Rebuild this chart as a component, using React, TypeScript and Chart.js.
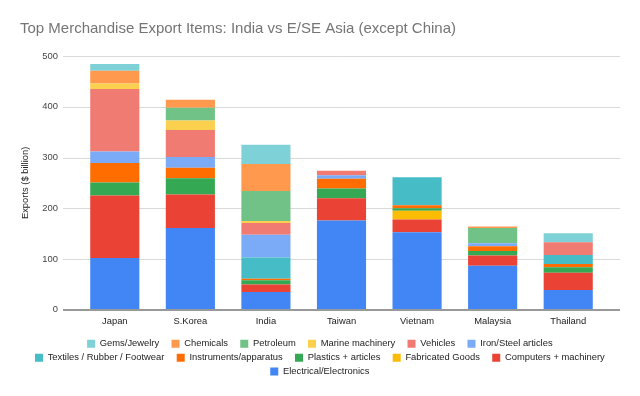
import React, { useEffect, useRef } from "react";
import { Chart, registerables } from "chart.js";

Chart.register(...registerables);

const categories = ["Japan", "S.Korea", "India", "Taiwan", "Vietnam", "Malaysia", "Thailand"];

// Stacked bottom → top
const electrical = [102, 161, 35, 176, 153, 87, 39];
const computers = [123, 66, 15, 44, 25, 20, 34];
const fabricated = [0, 0, 0, 0, 17, 0, 0];
const plastics = [26, 32, 8, 19, 5, 9, 11];
const instruments = [38, 21, 3, 19, 6, 9, 6];
const textiles = [0, 0, 42, 0, 55, 0, 18];
const ironSteel = [23, 21, 45, 7, 0, 6, 0];
const vehicles = [123, 53, 23, 9, 0, 0, 25];
const marine = [11, 19, 4, 0, 0, 0, 0];
const petroleum = [0, 25, 59, 0, 0, 30, 0];
const chemicals = [25, 16, 53, 0, 0, 3, 0];
const gems = [13, 0, 38, 0, 0, 0, 18];

const seriesNames = [
  "Electrical/Electronics",
  "Computers + machinery",
  "Fabricated Goods",
  "Plastics + articles",
  "Instruments/apparatus",
  "Textiles / Rubber / Footwear",
  "Iron/Steel articles",
  "Vehicles",
  "Marine machinery",
  "Petroleum",
  "Chemicals",
  "Gems/Jewelry",
];
const seriesValues = [
  electrical, computers, fabricated, plastics, instruments, textiles,
  ironSteel, vehicles, marine, petroleum, chemicals, gems,
];
const seriesColors = [
  "#4285F4", "#EA4335", "#FBBC04", "#34A853", "#FF6D01", "#46BDC6",
  "#7BAAF7", "#F07B72", "#FCD04F", "#71C287", "#FF994D", "#7ED1D7",
];

const yTicks = [0, 100, 200, 300, 400, 500];

const FONT = "Arial, 'Liberation Sans', sans-serif";
const SMALL = 9.4;

const gridPlugin = {
  id: "extGrid",
  beforeDatasetsDraw(chart: any) {
    const { ctx, chartArea, scales } = chart;
    const y = scales.y;
    ctx.save();
    ctx.lineWidth = 1;
    ctx.strokeStyle = "#d9d9d9";
    y.ticks.forEach((t: any) => {
      if (t.value === 0) return;
      const py = Math.round(y.getPixelForValue(t.value)) + 0.5;
      ctx.beginPath();
      ctx.moveTo(chartArea.left - 14, py);
      ctx.lineTo(chartArea.right + 14, py);
      ctx.stroke();
    });
    ctx.restore();
  },
  afterDatasetsDraw(chart: any) {
    const { ctx, chartArea, scales } = chart;
    const y = scales.y;
    const py = Math.round(y.getPixelForValue(0));
    ctx.save();
    ctx.strokeStyle = "#999999";
    ctx.lineWidth = 2;
    ctx.beginPath();
    ctx.moveTo(chartArea.left - 14, py);
    ctx.lineTo(chartArea.right + 14, py);
    ctx.stroke();
    ctx.restore();
  },
  afterLayout(chart: any) {
    const lg = chart.legend;
    if (!lg) return;
    const target = 323.75;
    const dx = target - (lg.left + lg.right) / 2;
    lg.left += dx;
    lg.right += dx;
    lg.top += 1.5;
    lg.bottom += 1.5;
  },
};

export default function App() {
  const ref = useRef<HTMLCanvasElement | null>(null);

  useEffect(() => {
    if (!ref.current) return;
    const chart = new Chart(ref.current, {
      type: "bar",
      data: {
        labels: categories,
        datasets: seriesNames.map((name, i) => ({
          label: name,
          data: seriesValues[i],
          backgroundColor: seriesColors[i],
          borderWidth: 0,
          barPercentage: 0.65,
          categoryPercentage: 1,
          yAxisID: "y",
        })),
      },
      plugins: [gridPlugin],
      options: {
        responsive: false,
        animation: false,
        layout: { padding: { left: 20, right: 17, top: 0, bottom: 11.2 } },
        plugins: {
          title: {
            display: true,
            text: "Top Merchandise Export Items: India vs E/SE Asia (except China)",
            align: "start",
            color: "#757575",
            font: { family: FONT, size: 15, weight: "normal" },
            padding: { top: 20, bottom: 18 },
          },
          legend: {
            display: true,
            position: "bottom",
            fullSize: true,
            reverse: true,
            labels: {
              boxWidth: 8,
              boxHeight: 8,
              padding: 4.5,
              color: "#222222",
              font: { family: FONT, size: SMALL },
              generateLabels: (c: any) => {
                const items = Chart.defaults.plugins.legend.labels.generateLabels(c);
                return items.map((it: any) => ({ ...it, text: it.text + "   " }));
              },
            },
          },
          tooltip: { enabled: false },
        },
        scales: {
          x: {
            stacked: true,
            grid: { display: false, drawTicks: false },
            border: { display: false },
            ticks: {
              color: "#222222",
              font: { family: FONT, size: SMALL },
              padding: 5.5,
              maxRotation: 0,
            },
            afterFit: (s: any) => {
              s.height = 23.3;
            },
          },
          y: {
            stacked: true,
            min: 0,
            max: 500,
            grid: { display: false, drawTicks: false },
            border: { display: false },
            afterBuildTicks: (s: any) => {
              s.ticks = yTicks.map((v) => ({ value: v }));
            },
            ticks: {
              color: "#444444",
              font: { family: FONT, size: SMALL },
              padding: 19,
            },
            title: {
              display: true,
              text: "Exports ($ billion)",
              color: "#222222",
              font: { family: FONT, size: SMALL },
              padding: 0,
            },
            afterFit: (s: any) => {
              s.width = 57;
            },
          },
          yRight: {
            position: "right",
            display: true,
            min: 0,
            max: 500,
            grid: { display: false, drawTicks: false },
            border: { display: false },
            ticks: { display: false },
            afterFit: (s: any) => {
              s.width = 17;
            },
          },
        },
      },
    });
    return () => chart.destroy();
  }, []);

  return (
    <div style={{ position: "fixed", left: 0, top: 0, width: 640, height: 396, background: "#fff" }}>
      <canvas ref={ref} width={640} height={396} style={{ width: 640, height: 396 }} />
    </div>
  );
}
